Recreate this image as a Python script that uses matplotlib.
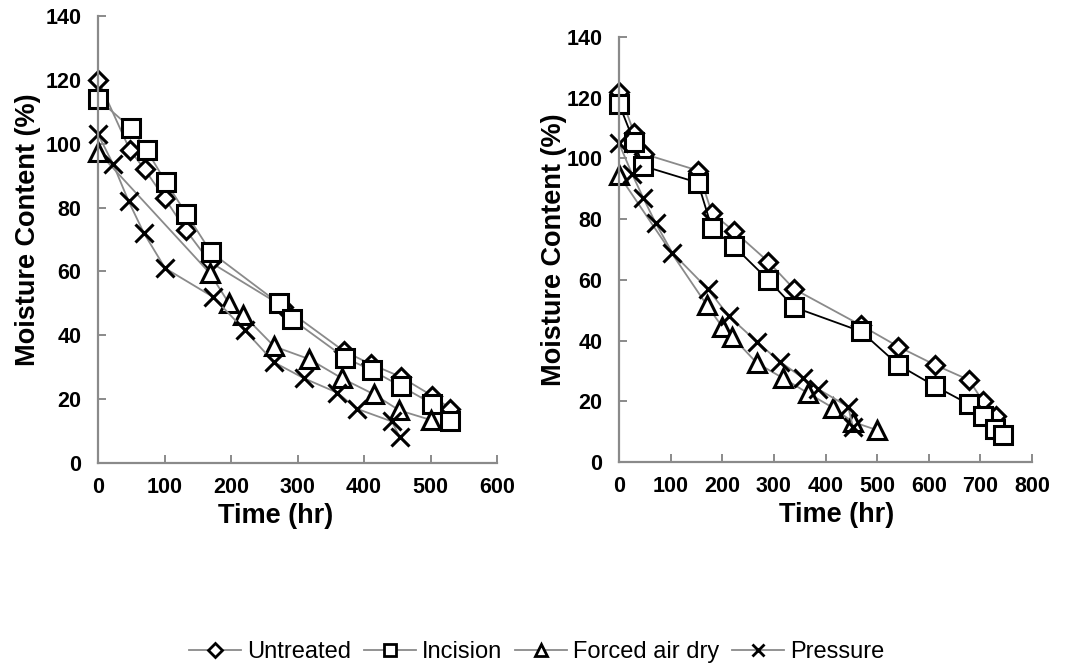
import matplotlib
matplotlib.use("Agg")
import matplotlib.pyplot as plt
from matplotlib import font_manager
from matplotlib.lines import Line2D

# ---------------- data ----------------
# Left panel
L_unt_x = [0, 48, 70, 100, 132, 168, 278, 370, 410, 455, 503, 530]
L_unt_y = [120, 98, 92, 83, 73, 63, 49, 35, 31, 27, 21, 17]
L_inc_x = [0, 49, 73, 102, 133, 170, 272, 292, 371, 412, 456, 503, 530]
L_inc_y = [114, 105, 98, 88, 78, 66, 50, 45, 33, 29, 24, 18.5, 13]
L_fad_x = [0, 168, 197, 218, 265, 318, 367, 415, 453, 500]
L_fad_y = [97.5, 59.5, 50, 46.5, 36.5, 32.5, 26.5, 21.5, 16.5, 13.5]
L_prs_x = [0, 23, 46, 69, 101, 173, 221, 265, 310, 360, 389, 442, 454]
L_prs_y = [103, 93.5, 82, 72, 61, 52, 41.5, 31.5, 26.5, 22, 17, 13, 8]

# Right panel
R_unt_x = [0, 29, 48, 153, 180, 223, 289, 339, 469, 541, 612, 678, 705, 730]
R_unt_y = [122, 108.5, 101.5, 96, 82, 76, 66, 57, 45, 38, 32, 27, 20, 15]
R_inc_x = [0, 29, 47, 153, 180, 223, 289, 339, 469, 541, 612, 678, 705, 729, 744]
R_inc_y = [118, 105.5, 97.5, 92, 77, 71, 60, 51, 43, 32, 25, 19, 15, 11, 9]
R_fad_x = [0, 170, 200, 219, 267, 318, 366, 415, 453, 500]
R_fad_y = [94.5, 51.7, 44.5, 41.3, 32.6, 27.6, 22.7, 17.8, 13.2, 10.5]
R_prs_x = [0, 25, 47, 71, 103, 172, 213, 267, 312, 357, 386, 444, 453]
R_prs_y = [105, 95, 87, 78.7, 69, 57, 48, 39.6, 33, 27.6, 24, 18.2, 11.6]

series_names = ["Untreated", "Incision", "Forced air dry", "Pressure"]
y_ticks = [0, 20, 40, 60, 80, 100, 120, 140]
L_x_ticks = [0, 100, 200, 300, 400, 500, 600]
R_x_ticks = [0, 100, 200, 300, 400, 500, 600, 700, 800]
x_label = "Time (hr)"
y_label = "Moisture Content (%)"

# ---------------- style ----------------
avail = {f.name for f in font_manager.fontManager.ttflist}
main_font = "Liberation Sans" if "Liberation Sans" in avail else "DejaVu Sans"
narrow_font = "Liberation Sans Narrow" if "Liberation Sans Narrow" in avail else main_font
plt.rcParams["font.family"] = [main_font, "DejaVu Sans"]

GRAY = "#8a8a8a"
styles = {
    "Untreated": dict(marker="D", ms=9.5),
    "Incision": dict(marker="s", ms=12.5),
    "Forced air dry": dict(marker="^", ms=13),
    "Pressure": dict(marker="x", ms=12.5),
}

fig = plt.figure(figsize=(10.72, 6.68), dpi=100)

W, H = 1072, 668
axL = fig.add_axes([98 / W, 1 - 463 / H, (497 - 98) / W, (463 - 16) / H])
axR = fig.add_axes([619 / W, 1 - 462 / H, (1032 - 619) / W, (462 - 37) / H])


def draw(ax, data, line_colors):
    for name, (xs, ys) in zip(series_names, data):
        st = styles[name]
        ax.plot(xs, ys, color=line_colors[name], lw=1.3, marker=st["marker"],
                ms=st["ms"], mfc="white" if st["marker"] != "x" else "black",
                mec="black", mew=2.2, clip_on=False)


def style_axis(ax, xticks, xmax, xlabel_pos, ylabel_pos):
    ax.set_xlim(0, xmax)
    ax.set_ylim(0, 140)
    ax.set_xticks(xticks)
    ax.set_yticks(y_ticks)
    for s in ["top", "right"]:
        ax.spines[s].set_visible(False)
    for s in ["left", "bottom"]:
        ax.spines[s].set_color(GRAY)
        ax.spines[s].set_linewidth(1.6)
    ax.tick_params(axis="both", direction="in", length=6, width=1.4, color=GRAY,
                   labelsize=15.5, labelcolor="black")
    ax.tick_params(axis="y", pad=12)
    ax.tick_params(axis="x", pad=10)
    for lab in ax.get_xticklabels() + ax.get_yticklabels():
        lab.set_fontweight("bold")
    ax.set_xlabel(x_label, fontsize=19.5, fontweight="bold")
    ax.set_ylabel(y_label, fontsize=19.5, fontweight="bold")
    ax.xaxis.set_label_coords(*xlabel_pos)
    ax.yaxis.set_label_coords(*ylabel_pos)


left_data = [(L_unt_x, L_unt_y), (L_inc_x, L_inc_y), (L_fad_x, L_fad_y), (L_prs_x, L_prs_y)]
right_data = [(R_unt_x, R_unt_y), (R_inc_x, R_inc_y), (R_fad_x, R_fad_y), (R_prs_x, R_prs_y)]

draw(axL, left_data, {n: GRAY for n in series_names})
draw(axR, right_data, {"Untreated": GRAY, "Incision": "black",
                       "Forced air dry": GRAY, "Pressure": GRAY})

style_axis(axL, L_x_ticks, 600, (0.444, -0.09), (-0.143, 0.521))
style_axis(axR, R_x_ticks, 800, (0.528, -0.095), (-0.127, 0.499))

# legend
handles = []
leg_ms = {"Untreated": 7, "Incision": 8.5, "Forced air dry": 8.5, "Pressure": 8.5}
for name in series_names:
    st = styles[name]
    handles.append(Line2D([0], [0], color=GRAY, lw=1.3, marker=st["marker"],
                          ms=leg_ms[name],
                          mfc="white" if st["marker"] != "x" else "black",
                          mec="black", mew=2.0))
fig.legend(handles, series_names, loc="center", ncol=4, frameon=False,
           bbox_to_anchor=(537 / W, 1 - 652 / H),
           prop={"family": narrow_font, "size": 17},
           handlelength=2.2, handletextpad=0.25, columnspacing=0.55)

fig.savefig("out.png", dpi=100)
